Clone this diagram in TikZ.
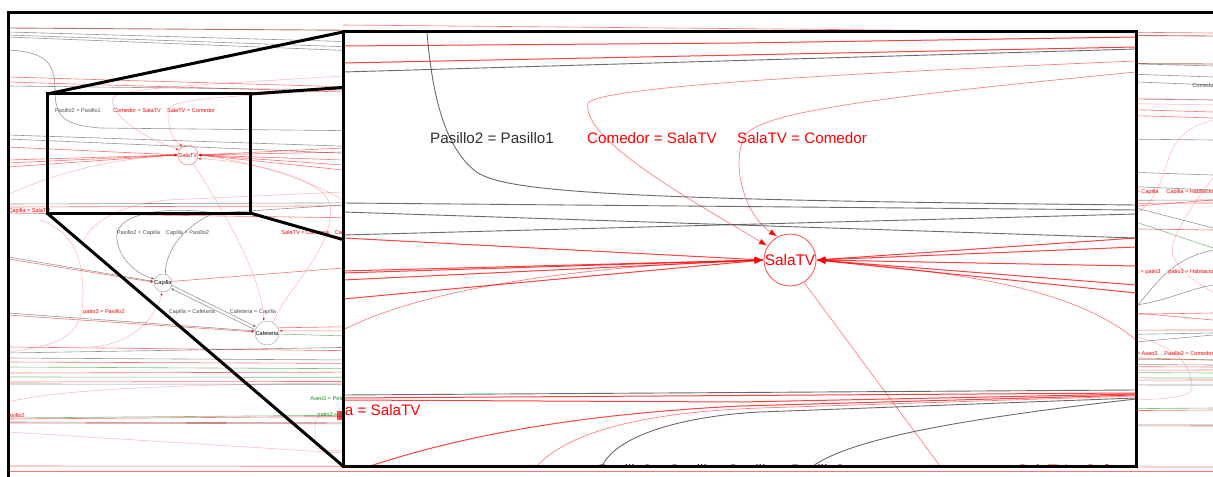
\documentclass[tikz,border=0pt]{standalone}
\usepackage{fontspec}
\setmainfont{Liberation Sans}
\usetikzlibrary{arrows.meta}
\definecolor{rd}{RGB}{255,0,0}
\definecolor{gn}{RGB}{20,140,20}
\definecolor{gy}{RGB}{80,80,80}
\definecolor{br}{RGB}{150,60,30}
\tikzset{
  frame/.style={draw=black, line width=1.5pt},
  tiny/.style={font=\fontsize{2.8}{3}\selectfont, inner sep=0pt},
  biglab/.style={font=\fontsize{7.6}{9}\selectfont, inner sep=0pt},
  rl/.style={draw=rd, line width=0.3pt, draw opacity=0.55},
  fl/.style={draw=rd, line width=0.25pt, draw opacity=0.3},
  gl/.style={draw=gy, line width=0.3pt, draw opacity=0.6},
  nl/.style={draw=gn, line width=0.3pt, draw opacity=0.55},
  bl/.style={draw=br, line width=0.45pt, draw opacity=0.7},
  RL/.style={draw=rd, line width=0.5pt, draw opacity=0.75},
  FL/.style={draw=rd, line width=0.35pt, draw opacity=0.5},
  GL/.style={draw=gy, line width=0.45pt, draw opacity=0.85},
  tipS/.style={-{Latex[length=1.6pt,width=1.3pt]}},
  tipB/.style={-{Latex[length=4.5pt,width=3.2pt]}},
  smallnode/.style={circle, line width=0.25pt, inner sep=0pt, font=\fontsize{2.8}{3}\selectfont},
  bignode/.style={circle, draw=rd, text=rd, line width=0.4pt, draw opacity=0.7, inner sep=0pt, minimum size=26pt, font=\fontsize{7.7}{9}\selectfont}
}
\begin{document}
\begin{tikzpicture}[x=0.5pt,y=-0.5pt]
\useasboundingbox (0,0) rectangle (1213,476);
\begin{scope}
\clip (8,13) rectangle (1213,476);
% ---------- background graph ----------
\node[smallnode, draw=rd, draw opacity=0.5, text=rd, minimum size=10pt] (sS) at (188,155) {SalaTV};
\node[smallnode, draw=gy, draw opacity=0.5, minimum size=9pt] (cap) at (163,283) {Capilla};
\node[smallnode, draw=gy, draw opacity=0.5, minimum size=12pt] (caf) at (267,333) {Cafeteria};
% top band
\draw[bl] (8,28) -- (1213,36);
\draw[rl] (343,25) -- (1213,33);
\draw[gl] (8,32) -- (1213,66);
\draw[gl] (8,35) -- (1213,77);
\draw[gl] (8,37) -- (1213,85);
\draw[bl] (343,60) -- (1213,64);
\draw[gl] (8,50) .. controls (45,52) and (55,62) .. (55,90) .. controls (55,118) and (65,125) .. (100,128) -- (1213,140);
\draw[rl] (8,77) -- (1213,112);
\draw[rl] (8,82) -- (1213,118);
\draw[gl] (8,86) -- (1213,100);
% edges into small SalaTV
\draw[fl,tipS] (1213,100) -- (343,76) .. controls (200,85) and (110,88) .. (112,100) .. controls (114,120) and (150,140) .. (sS.150);
\draw[fl,tipS] (1213,105) -- (343,90) .. controls (250,95) and (175,98) .. (170,108) .. controls (166,125) and (172,140) .. (sS.120);
\draw[gl] (8,135) -- (1213,175);
\draw[gl] (8,139) -- (1213,190);
\draw[rl,tipS] (8,147) -- (sS.west);
\draw[rl,tipS] (8,160) -- (sS.west);
\draw[rl,tipS] (8,163) -- (sS.west);
\draw[rl,tipS] (8,167) -- (sS.west);
\draw[fl,tipS] (8,195) .. controls (60,170) and (120,158) .. (sS.west);
\draw[rl,tipS] (343,148) -- (sS.east);
\draw[rl,tipS] (343,152) -- (sS.east);
\draw[rl,tipS] (343,160) -- (sS.east);
\draw[rl,tipS] (343,165) -- (sS.east);
\draw[rl,tipS] (343,170) -- (sS.east);
\draw[fl,tipS] (343,200) .. controls (300,175) and (240,160) .. (sS.east);
% lower band of small rect
\draw[gl] (8,204) -- (1213,200);
\draw[rl] (8,207) -- (1213,203);
\draw[rl] (8,213) -- (1213,230);
\draw[fl] (83,240) .. controls (95,220) and (120,205) .. (167,200) -- (343,192);
\draw[fl] (40,220) .. controls (75,232) and (83,260) .. (83,295) .. controls (83,330) and (70,345) .. (8,352);
% Capilla / Cafeteria edges
\draw[gl,tipS] (215,213) .. controls (160,205) and (112,215) .. (117,240) .. controls (120,262) and (140,275) .. (cap.155);
\draw[gl] (cap.75) .. controls (165,250) and (185,225) .. (215,213) -- (343,205);
\draw[gl,tipS] (cap.-15) -- (caf.150);
\draw[gl,tipS] (caf.165) -- (cap.-35);
\draw[gl,tipS] (8,257) -- (cap.170);
\draw[rl,tipS] (8,259) -- (cap.175);
\draw[rl] (cap.10) -- (1213,200);
\draw[fl,tipS] (90,347) .. controls (130,345) and (155,320) .. (cap.-95);
\draw[gl,tipS] (8,313) -- (caf.170);
\draw[rl,tipS] (8,315) -- (caf.175);
\draw[fl,tipS] (sS.-60) .. controls (230,220) and (262,280) .. (caf.105);
\draw[fl,tipS] (caf.60) .. controls (285,290) and (335,250) .. (330,205) .. controls (325,180) and (260,162) .. (sS.-20);
\draw[rl,tipS] (1213,330) -- (caf.10);
\draw[rl] (caf.25) -- (1213,313);
\draw[nl] (caf.-5) -- (1213,360);
% horizontal band
\draw[rl] (8,347) -- (1213,360);
\draw[gl] (8,353) -- (1213,333);
\draw[gl] (8,358) -- (1213,365);
\draw[rl] (8,362) -- (1213,367);
\draw[nl] (8,367) -- (1213,373);
\draw[rl] (8,373) -- (1213,370);
\draw[nl] (8,377) -- (1213,378);
\draw[rl] (8,382) -- (1213,380);
\draw[gl] (8,384) -- (1213,385);
\draw[fl] (8,402) .. controls (60,390) and (150,385) .. (343,383);
\draw[nl] (8,418) -- (1213,408);
\draw[rl] (8,419) -- (1213,410);
\draw[gl] (8,422) -- (1213,425);
\draw[rl] (8,423) -- (1213,426);
\draw[fl] (8,432) -- (343,453);
\draw[rl] (8,466) -- (1213,467);
\draw[rl] (8,471) -- (1213,471);
\draw[fl] (343,417) -- (322,417) .. controls (316,417) and (315,420) .. (315,425) -- (315,443) .. controls (315,448) and (318,450) .. (325,450) -- (343,451);
\fill[rd, opacity=0.7] (337,411) rectangle (343,420);
% right strip
\draw[fl] (1136,213) .. controls (1160,200) and (1163,170) .. (1172,150) .. controls (1180,133) and (1195,125) .. (1213,120);
\draw[gl] (1136,208) -- (1213,228);
\draw[nl] (1136,222) -- (1213,248);
\draw[gl] (1136,307) .. controls (1160,280) and (1170,260) .. (1213,250);
\draw[fl] (1213,178) .. controls (1185,215) and (1165,245) .. (1175,260) .. controls (1185,275) and (1200,285) .. (1213,292);
\draw[gl] (1136,305) .. controls (1170,300) and (1185,290) .. (1213,285);
\draw[rl] (1136,313) -- (1213,320);
\draw[gl] (1136,342) -- (1213,335);
\draw[fl] (1136,337) .. controls (1170,345) and (1190,360) .. (1192,385) .. controls (1193,395) and (1185,398) .. (1136,400);
% labels
\node[tiny, text=gy] (t1) at (78,110) {Pasillo2 = Pasillo1};
\node[tiny, text=rd] (t2) at (137,110) {Comedor = SalaTV};
\node[tiny, text=rd] (t3) at (191,110) {SalaTV = Comedor};
\node[tiny, text=rd, anchor=west] (t4) at (8,211) {Capilla = SalaTV};
\node[tiny, text=gy] (t5) at (163,233) {Pasillo2 = Capilla\hspace{3pt}Capilla = Pasillo2};
\node[tiny, text=rd, anchor=west] (t6) at (281,233) {SalaTV = Cafeteria\hspace{3pt}Capilla = Cafeteria};
\node[tiny, text=rd] (t7) at (104,312) {patio3 = Pasillo2};
\node[tiny, text=gy] (t8) at (192,312) {Capilla = Cafeteria};
\node[tiny, text=gy] (t9) at (253,312) {Cafeteria = Capilla};
\node[tiny, text=gn, anchor=west] (t10) at (310,398) {Aseo3 = Pelu};
\node[tiny, text=gn, anchor=west] (t11) at (317,415) {patio2 = Pasillo2};
\node[tiny, text=rd, anchor=east] (t12) at (25,415) {Pasillo2};
\node[tiny, text=gy, anchor=west] (t13) at (1192,85) {Comedor};
\node[tiny, text=rd, anchor=east] (t14) at (1159,192) {Pasillo2 = Capilla};
\node[tiny, text=rd, anchor=west] (t15) at (1166,192) {Capilla = Habitacion};
\node[tiny, text=rd, anchor=east] (t16) at (1161,272) {Habitacions = patio3};
\node[tiny, text=rd, anchor=west] (t17) at (1168,272) {patio3 = Habitacion};
\node[tiny, text=rd, anchor=east] (t18) at (1158,353) {Pasillo2 = Aseo3};
\node[tiny, text=rd, anchor=west] (t19) at (1164,353) {Pasillo2 = Comedor};
\end{scope}
% ---------- zoom lens ----------
\draw[frame] (47,94) -- (343,32);
\draw[frame] (250,94) -- (1136,32);
\draw[frame] (250,213) -- (1136,466);
\draw[frame] (47,213) -- (343,466);
\draw[frame] (47,94) rectangle (250,213);
\fill[white] (343,32) rectangle (1136,466);
\begin{scope}
\clip (343,32) rectangle (1136,466);
\node[bignode] (S) at (790,260) {SalaTV};
% top lines
\draw[RL] (343,46) -- (740,43) -- (1136,37);
\draw[RL] (343,63) -- (1136,47);
\draw[GL] (343,72) -- (1136,49);
\draw[FL,tipB] (1136,61) .. controls (800,75) and (600,88) .. (588,103) .. controls (580,140) and (700,205) .. (S.148);
\draw[FL,tipB] (1136,72) .. controls (900,95) and (765,110) .. (745,135) .. controls (730,165) and (745,215) .. (S.118);
\draw[GL] (427,32) .. controls (432,95) and (445,150) .. (478,173) .. controls (510,192) and (620,200) .. (1136,205);
\draw[GL] (343,203) -- (1136,210);
\draw[GL] (343,212) -- (1136,238);
\draw[GL] (343,235) -- (1136,214);
% into SalaTV from left
\draw[RL,tipB] (343,238) -- (S.west);
\draw[RL,tipB] (343,271) -- (S.west);
\draw[RL,tipB] (343,273) -- (S.west);
\draw[RL,tipB] (343,280) -- (S.west);
\draw[RL,tipB] (343,299) -- (S.west);
\draw[FL,tipB] (343,330) .. controls (430,285) and (600,265) .. (S.west);
% into SalaTV from right
\draw[RL,tipB] (1136,238) -- (S.east);
\draw[RL,tipB] (1136,247) -- (S.east);
\draw[RL,tipB] (1136,266) -- (S.east);
\draw[RL,tipB] (1136,285) -- (S.east);
\draw[RL,tipB] (1136,293) -- (S.east);
\draw[FL,tipB] (1136,340) .. controls (1070,285) and (950,272) .. (S.east);
\draw[FL] (S.-58) -- (940,466);
% bottom lines
\draw[GL] (343,395) -- (1136,390);
\draw[RL] (343,398) -- (1136,393);
\draw[RL] (343,400) -- (740,402) -- (1136,394);
\draw[RL] (370,466) .. controls (450,440) and (560,415) .. (740,406) -- (1136,395);
\draw[FL] (537,466) .. controls (570,430) and (650,412) .. (760,408) -- (1136,396);
\draw[GL] (602,466) .. controls (620,430) and (700,415) .. (760,412) -- (1136,398);
\draw[GL] (813,466) .. controls (850,440) and (950,420) .. (1136,399);
% labels
\node[biglab, text=gy!60!black] (L1) at (492,138) {Pasillo2 = Pasillo1};
\node[biglab, text=rd] (L2) at (652,138) {Comedor = SalaTV};
\node[biglab, text=rd] (L3) at (802,138) {SalaTV = Comedor};
\node[biglab, text=rd, anchor=east] (L4) at (421,412) {Capilla = SalaTV};
\node[biglab, text=gy!60!black, anchor=base west] (L5) at (598,475) {Pasillo2 = Capilla\hspace{6pt}Capilla = Pasillo2};
\node[biglab, text=rd, anchor=base west] (L6) at (1017,475) {SalaTV = Cafeteria\hspace{6pt}Capilla};
\end{scope}
\draw[frame] (343,32) rectangle (1136,466);
% outer frame
\draw[frame] (8,480) -- (8,13) -- (1220,13);
\end{tikzpicture}
\end{document}
